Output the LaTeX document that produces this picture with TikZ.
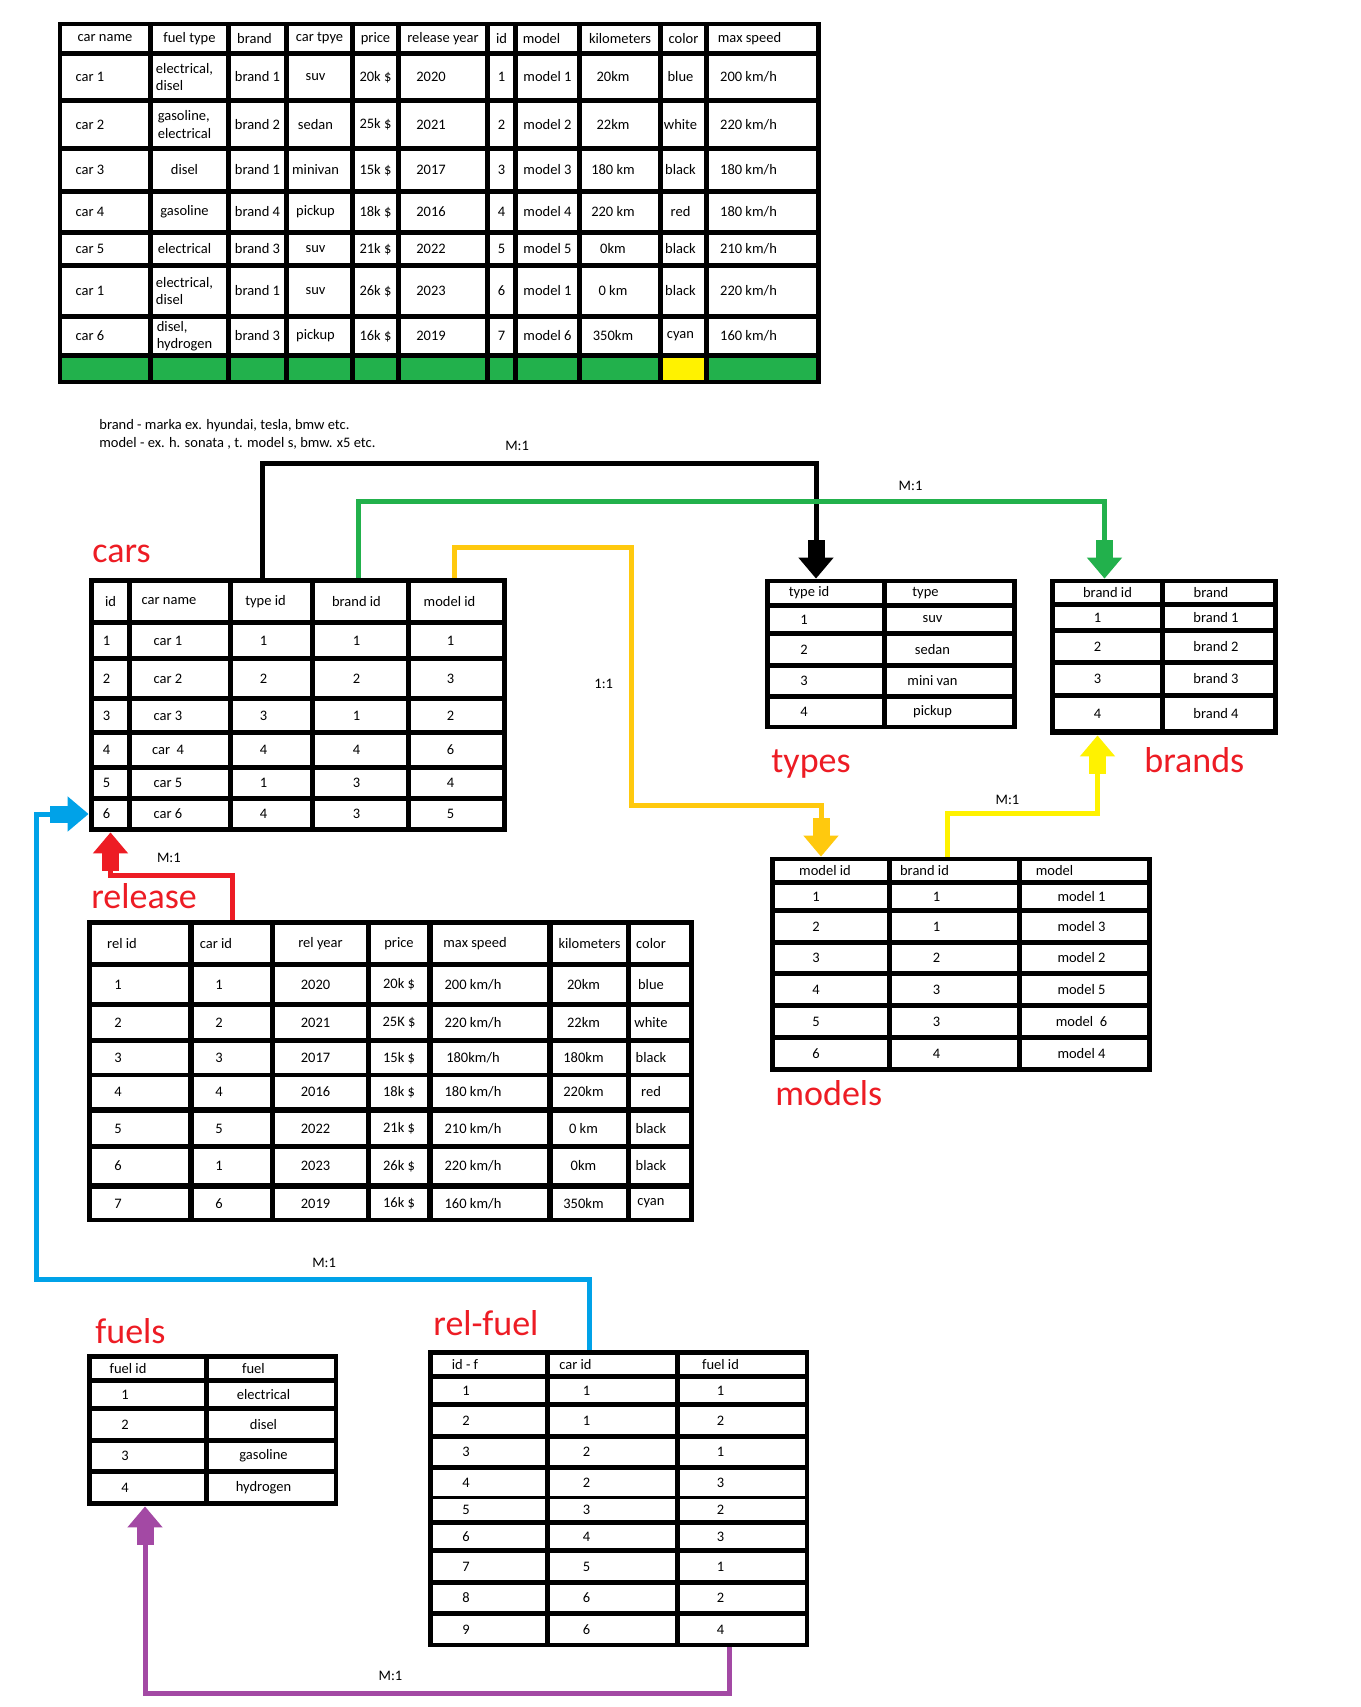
\documentclass[tikz,border=0pt]{standalone}
\usepackage{fontspec}
\setmainfont{Carlito}
\usetikzlibrary{arrows.meta,calc,fit,backgrounds}
\definecolor{paintgreen}{HTML}{22B14C}
\definecolor{paintgold}{HTML}{FFC90E}
\definecolor{paintyellow}{HTML}{FFF200}
\definecolor{paintred}{HTML}{ED1C24}
\definecolor{paintblue}{HTML}{00A2E8}
\definecolor{paintpurple}{HTML}{A349A4}
\tikzset{
  tableframe/.style={fill=black,inner sep=0pt},
  cell/.style={fill=white,inner sep=0pt},
  celltext/.style={inner sep=0pt,align=left,font=\fontsize{7.25}{8.6}\selectfont},
  tablename/.style={text=paintred,inner sep=0pt,anchor=base west,font=\fontsize{18}{20}\selectfont},
  note/.style={inner sep=0pt,anchor=north west,align=left,font=\fontsize{7.25}{9.2}\selectfont},
  card/.style={inner sep=1pt,font=\fontsize{7.25}{8.6}\selectfont},
  link/.style={line width=2.5pt,
    -{Rectangle[width=8.5pt,length=9pt,sep=0pt]Triangle[width=17pt,length=10.5pt]}}
}
% #1 name, #2 frame x0/y0/x1/y1, #3 columns left/right/text shift/header shift, #4 rows top/bottom/{cells}
\newcommand{\dbtable}[4]{%
  \foreach \fl/\ft/\fr/\fb in {#2}{%
    \node[tableframe,fit={(\fl,\ft)(\fr,\fb)}] (#1) {};}%
  \foreach \rtop/\rbot/\rcells [count=\ri] in {#4}{%
    \foreach \ctext [count=\ci] in \rcells {%
      \foreach \cleft/\cright/\cshift/\chead [count=\ck] in {#3}{%
        \ifnum\ck=\ci\relax
          \ifnum\ri=1 \let\cdx\chead \else \let\cdx\cshift \fi
          \node[cell,minimum width=(\cright-\cleft)*0.5pt,minimum height=(\rbot-\rtop)*0.5pt]
            (#1-\ri-\ci) at ({(\cleft+\cright)/2},{(\rtop+\rbot)/2}) {};
          \node[celltext] (#1-\ri-\ci-t) at ($(#1-\ri-\ci)+(\cdx,0)$) {\ctext};
        \fi}}}}

\begin{document}
\begin{tikzpicture}[x=0.5pt,y=-0.5pt]
  \useasboundingbox (0,0) rectangle (1360,1707);

  \dbtable{flat}{58/22/821/384}
    {62/148/-15/0,153/226/-5/0,231/284/0/-3,289/350/-4/0,355/396/0/0,401/485/-12/0,490/513/0/0,518/577/0/-6,582/658/-7/0,663/704/-3/0,709/816/-14/-13}
    {26/51/{car name,fuel type,brand,car tpye,price,release year,id,model,kilometers,color,max speed},
     56/98/{car 1,{electrical,\\disel},brand 1,suv,20k \$,2020,1,model 1,20km,blue,200 km/h},
     103/146/{car 2,{gasoline,\\electrical},brand 2,sedan,25k \$,2021,2,model 2,22km,white,220 km/h},
     151/189/{car 3,disel,brand 1,minivan,15k \$,2017,3,model 3,180 km,black,180 km/h},
     194/230/{car 4,gasoline,brand 4,pickup,18k \$,2016,4,model 4,220 km,red,180 km/h},
     235/263/{car 5,electrical,brand 3,suv,21k \$,2022,5,model 5,0km,black,210 km/h},
     268/314/{car 1,{electrical,\\disel},brand 1,suv,26k \$,2023,6,model 1,0 km,black,220 km/h},
     319/353/{car 6,{disel,\\hydrogen},brand 3,pickup,16k \$,2019,7,model 6,350km,cyan,160 km/h},
     358/380/{\relax,\relax,\relax,\relax,\relax,\relax,\relax,\relax,\relax,\relax,\relax}}
  \foreach \c in {1,...,11}
    \fill[paintgreen] (flat-9-\c.north west) rectangle (flat-9-\c.south east);
  \fill[paintyellow] (flat-9-10.north west) rectangle (flat-9-10.south east);

  \node[note] (notes) at (99,419) {brand - marka ex. hyundai, tesla, bmw etc.\\model - ex. h. sonata , t. model s, bmw. x5 etc.};

  \dbtable{cars}{89/578/507/832}{94/127/-4/0,132/228/-12/-11,233/310/-8/-6,315/406/-4/-4,411/502/-6/-7}
    {583/620/{id,car name,type id,brand id,model id},
     625/656/{1,car 1,1,1,1},
     661/696/{2,car 2,2,2,3},
     701/730/{3,car 3,3,1,2},
     735/765/{4,car\ \ 4,4,4,6},
     770/796/{5,car 5,1,3,4},
     801/827/{6,car 6,4,3,5}}
  \node[tablename] (cars-title) at (92,562) {cars};

  \dbtable{types}{765/579/1017/729}{770/882/-22/-17,887/1012/-17/-24}
    {583/603/{type id,type},608/631/{1,suv},636/663/{2,sedan},668/694/{3,mini van},699/725/{4,pickup}}
  \node[tablename] (types-title) at (771,772) {types};

  \dbtable{brands}{1050/579/1278/735}{1055/1160/-10/0,1165/1273/-3/-8}
    {583/602/{brand id,brand},607/628/{1,brand 1},633/660/{2,brand 2},665/693/{3,brand 3},698/729/{4,brand 4}}
  \node[tablename] (brands-title) at (1144,772) {brands};

  \dbtable{models}{770/857/1152/1072}{775/887/-15/-6,892/1017/-18/-30,1022/1147/-3/-30}
    {861/880/{model id,brand id,model},
     885/908/{1,1,model 1},
     913/940/{2,1,model 3},
     945/971/{3,2,model 2},
     976/1003/{4,3,model 5},
     1008/1035/{5,3,model\ \ 6},
     1040/1067/{6,4,model 4}}
  \node[tablename] (models-title) at (775,1105) {models};

  \dbtable{release}{87/920/694/1222}{92/188/-22/-18,194/270/-13/-16,275/366/-5/0,371/427/0/0,433/547/-17/-15,553/626/-6/0,631/689/-9/-9}
    {925/962/{rel id,car id,rel year,price,max speed,kilometers,color},
     967/1002/{1,1,2020,20k \$,200 km/h,20km,blue},
     1007/1038/{2,2,2021,25K \$,220 km/h,22km,white},
     1043/1073/{3,3,2017,15k \$,180km/h,180km,black},
     1077/1107/{4,4,2016,18k \$,180 km/h,220km,red},
     1113/1144/{5,5,2022,21k \$,210 km/h,0 km,black},
     1149/1183/{6,1,2023,26k \$,220 km/h,0km,black},
     1189/1218/{7,6,2019,16k \$,160 km/h,350km,cyan}}
  \node[tablename] (release-title) at (91,908) {release};

  \dbtable{fuels}{87/1354/338/1506}{92/204/-23/-20,209/334/-8/-18}
    {1359/1378/{fuel id,fuel},1383/1406/{1,electrical},1411/1438/{2,disel},1443/1469/{3,gasoline},1474/1501/{4,hydrogen}}
  \node[tablename] (fuels-title) at (95,1343) {fuels};

  \dbtable{relfuel}{428/1350/809/1647}{433/545/-23/-24,550/675/-26/-37,680/805/-22/-22}
    {1355/1374/{id - f,car id,fuel id},
     1379/1402/{1,1,1},
     1407/1434/{2,1,2},
     1439/1465/{3,2,1},
     1470/1496/{4,2,3},
     1499/1520/{5,3,2},
     1525/1548/{6,4,3},
     1553/1580/{7,5,1},
     1585/1611/{8,6,2},
     1616/1643/{9,6,4}}
  \node[tablename] (relfuel-title) at (433,1335) {rel-fuel};

  \begin{scope}[on background layer]
    \fill[white] (0,0) rectangle (1360,1707);
    \draw[link] ($(cars-1-3.north |- cars.north)+(-9,0)$) -- ++(0,-114)
      -| node[card,pos=0.23,above=4pt] (type-card) {M:1} ($(types-1-1.north |- types.north)+(-10,0)$);
    \draw[link,paintgreen] ($(cars-1-4.north |- cars.north)+(-2,0)$) -- ++(0,-76)
      -| node[card,pos=0.37,above=3pt,black] (brand-card) {M:1} ($(brands-1-1.north |- brands.north)+(-3,0)$);
    \draw[link,paintgold] ($(cars-1-5.north |- cars.north)+(-2,0)$) -- ++(0,-30) -- ++(177,0)
      -- ++(0,258) node[card,pos=0.53,left=7pt,black] (model-card) {1:1}
      -| ($(models-1-1.north |- models.north)+(-10,0)$);
    \draw[link,paintyellow] ($(models-1-2.north |- models.north)+(-7,0)$) -- ++(0,-43)
      -| node[card,pos=0.2,above=2pt,black] (model-brand-card) {M:1} ($(brands-5-1.south |- brands.south)+(-10,0)$);
    \draw[link,paintred] (release-1-2.north |- release.north) -- ++(0,-44)
      -| node[card,pos=0.26,above=4pt,black] (release-card) {M:1} (cars-7-1.south |- cars.south);
    \draw[link,paintblue] ($(relfuel-1-2.north |- relfuel.north)+(-23,0)$) -- ++(0,-70)
      -| node[card,pos=0.24,above=4pt,black] (relfuel-card) {M:1} ($(cars-7-1.west -| cars.west)+(-52,0)$)
      -- (cars-7-1.west -| cars.west);
    \draw[link,paintpurple] ($(relfuel-10-3.south |- relfuel.south)+(-13,0)$) -- ++(0,46)
      -| node[card,pos=0.29,above=4pt,black] (fuel-card) {M:1} ($(fuels-5-1.south |- fuels.south)+(-3,0)$);
  \end{scope}
\end{tikzpicture}
\end{document}
